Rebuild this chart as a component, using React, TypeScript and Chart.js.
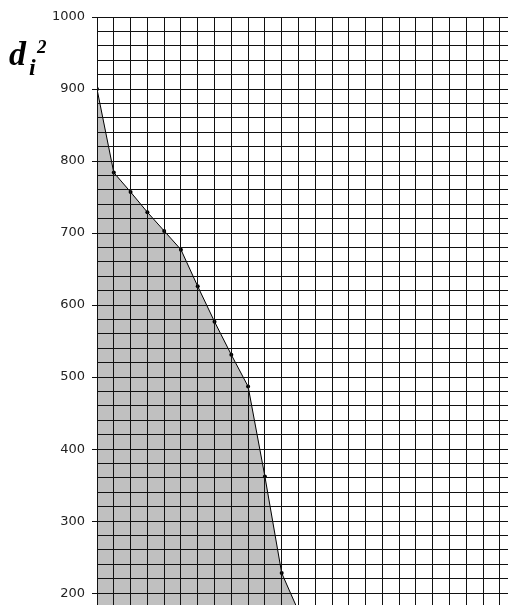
import React, { useEffect, useRef } from "react";
import { Chart, registerables } from "chart.js";

Chart.register(...registerables);

// Index of each observation along the horizontal axis
const steps = [0, 1, 2, 3, 4, 5, 6, 7, 8, 9, 10, 11, 12];
// Squared distance d_i^2 for each step
const squaredDistances = [900, 784, 757, 729, 703, 677, 626, 577, 531, 487, 362, 228, 175];

const Y_MIN = 183.3;
const Y_MAX = 1000;
const X_MAX = 24.48;

// Draws the axis symbol d_i^2 to the left of the plot
const axisSymbol = {
  id: "axisSymbol",
  afterDraw(chart: Chart) {
    const ctx = chart.ctx;
    ctx.save();
    ctx.fillStyle = "#000";
    ctx.textBaseline = "alphabetic";
    ctx.textAlign = "left";
    ctx.font = 'bold italic 34px "Liberation Serif"';
    ctx.fillText("d", 9, 65);
    ctx.font = 'bold italic 24px "Liberation Serif"';
    ctx.fillText("i", 29, 75);
    ctx.font = 'bold italic 19px "Liberation Serif"';
    ctx.fillText("2", 37, 53);
    ctx.restore();
  },
};

export default function App() {
  const canvasRef = useRef<HTMLCanvasElement | null>(null);

  useEffect(() => {
    const canvas = canvasRef.current;
    if (!canvas) return;
    const chart = new Chart(canvas, {
      type: "line",
      data: {
        datasets: [
          {
            data: steps.map((s, i) => ({ x: s, y: squaredDistances[i] })),
            borderColor: "#000",
            borderWidth: 1,
            backgroundColor: "#c0c0c0",
            fill: "start",
            pointRadius: 2,
            pointBackgroundColor: "#000",
            pointBorderColor: "#000",
            pointBorderWidth: 0,
            tension: 0,
          },
        ],
      },
      options: {
        responsive: false,
        animation: false,
        layout: { padding: { top: 17, left: 0, right: 0, bottom: 0 } },
        plugins: {
          legend: { display: false },
          tooltip: { enabled: false },
          title: { display: false },
        },
        scales: {
          x: {
            type: "linear",
            min: 0,
            max: X_MAX,
            border: { display: false },
            grid: { color: "#111", lineWidth: 1, drawTicks: false, z: 1 },
            ticks: { display: false, stepSize: 1, includeBounds: false, autoSkip: false, maxTicksLimit: 100 },
          },
          y: {
            type: "linear",
            min: Y_MIN,
            max: Y_MAX,
            border: { display: true, color: "#111", width: 1, z: 1 },
            grid: {
              z: 1,
              color: "#111",
              lineWidth: 1,
              drawTicks: true,
              tickLength: 5,
              tickColor: (ctx: any) =>
                ctx.tick && ctx.tick.value % 100 === 0 ? "#111" : "rgba(0,0,0,0)",
            },
            ticks: {
              stepSize: 20,
              includeBounds: false,
              autoSkip: false,
              maxTicksLimit: 100,
              padding: 7,
              color: "#222",
              font: { family: '"DejaVu Sans"', size: 13 },
              callback: (v: any) => (Number(v) % 100 === 0 ? String(v) : ""),
            },
            afterFit: (scale: any) => {
              scale.width = 97;
            },
          },
        },
      },
      plugins: [axisSymbol],
    });
    return () => chart.destroy();
  }, []);

  return (
    <div style={{ position: "absolute", left: 0, top: 0, width: 512, height: 605, overflow: "hidden", background: "#fff" }}>
      <canvas ref={canvasRef} width={512} height={620} style={{ display: "block" }} />
    </div>
  );
}
